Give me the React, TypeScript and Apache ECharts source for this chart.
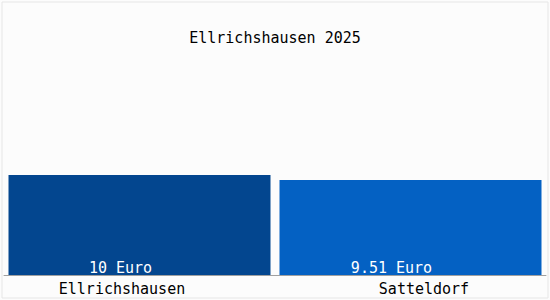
import React, { useEffect, useRef } from "react";
import * as echarts from "echarts";

const categories = ["Ellrichshausen", "Satteldorf"];
const values = [10, 9.51];
const barColors = ["#03468f", "#0461c3"];
const titleText = "Ellrichshausen 2025";
const unit = "Euro";

const FONT = "'DejaVu Sans Mono', monospace";
const FS = 15;

export default function App() {
  const ref = useRef<HTMLDivElement>(null);
  useEffect(() => {
    document.body.style.margin = "0";
    if (!ref.current) return;
    const chart = echarts.init(ref.current, undefined, { renderer: "svg" });
    chart.setOption({
      animation: false,
      backgroundColor: "#fcfcfc",
      title: {
        text: titleText,
        left: "center",
        top: 25,
        textStyle: { fontFamily: FONT, fontSize: FS, fontWeight: "normal", color: "#000" },
      },
      grid: { left: 4, right: 4, top: 75, bottom: 25, containLabel: false },
      xAxis: {
        type: "category",
        data: categories,
        axisLine: { show: true, lineStyle: { color: "#a0a0a0", width: 1 } },
        axisTick: { show: false },
        axisLabel: {
          margin: 6,
          interval: 0,
          formatter: (v: string, i: number) => (i === 0 ? `{l|${v}}` : `{r|${v}}`),
          rich: {
            l: { fontFamily: FONT, fontSize: FS, color: "#000", padding: [0, 35, 0, 0] },
            r: { fontFamily: FONT, fontSize: FS, color: "#000", padding: [0, 0, 0, 27] },
          },
        },
      },
      yAxis: { type: "value", min: 0, max: 20, show: false, splitLine: { show: false } },
      graphic: [
        {
          type: "rect",
          shape: { x: 2, y: 2, width: 546, height: 296 },
          style: { fill: "none", stroke: "#e6e6e6", lineWidth: 1 },
          silent: true,
          z: -1,
        },
      ],
      series: [
        {
          type: "bar",
          barWidth: 262,
          data: values.map((v, i) => ({ value: v, itemStyle: { color: barColors[i] } })),
          label: {
            show: true,
            position: "insideBottom",
            distance: 0,
            offset: [-19, 0],
            color: "#fff",
            fontFamily: FONT,
            fontSize: FS,
            formatter: (p: any) => `${p.value} ${unit}`,
          },
        },
      ],
    });
    return () => chart.dispose();
  }, []);
  return <div ref={ref} style={{ width: 550, height: 300 }} />;
}
